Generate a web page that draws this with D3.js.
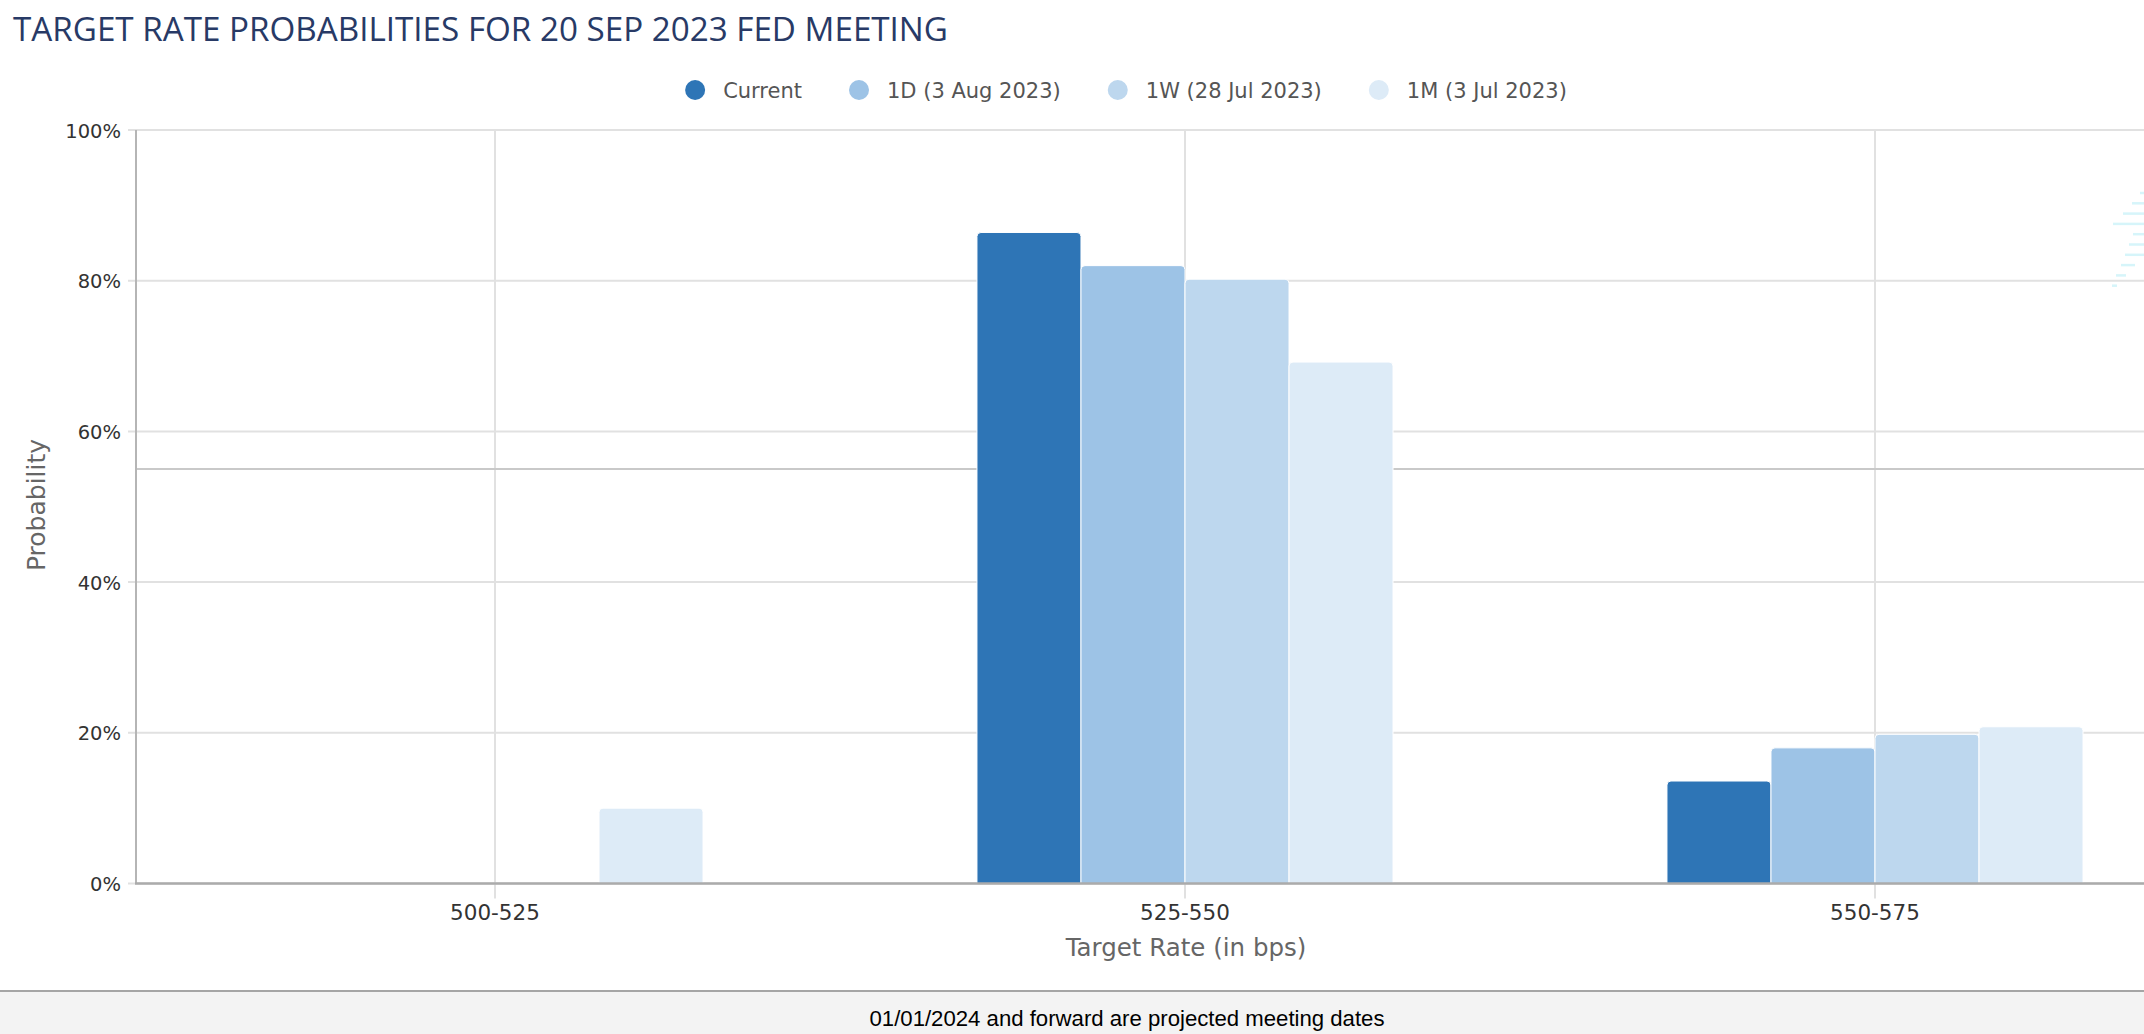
<!DOCTYPE html>
<html>
<head>
<meta charset="utf-8">
<script src="https://cdn.jsdelivr.net/npm/d3@7"></script>
<style>
  body { margin: 0; background: #fff; }
  svg { display: block; }
</style>
</head>
<body>
<div id="chart"></div>
<script>
// chart values
const categories = ["500-525", "525-550", "550-575"];
const seriesNames = ["Current", "1D (3 Aug 2023)", "1W (28 Jul 2023)", "1M (3 Jul 2023)"];
const current = [0, 86.4, 13.6];
const oneDay = [0, 82.0, 18.0];
const oneWeek = [0, 80.2, 19.8];
const oneMonth = [10.0, 69.2, 20.8];
const yTicks = [0, 20, 40, 60, 80, 100];
const colors = ["#2e75b6", "#9dc3e6", "#bdd7ee", "#ddebf7"];

const uiFont = "'DejaVu Sans', Verdana, sans-serif";

function drawChart() {
    const width = 2144;
    const height = 1034;
    const plotLeft = 136;
    const plotTop = 130;
    const plotBottom = 883.5;

    const svg = d3.select("#chart").append("svg")
        .attr("width", width)
        .attr("height", height);

    const series = [current, oneDay, oneWeek, oneMonth].map(function(vals, i) {
        return { name: seriesNames[i], color: colors[i], values: vals };
    });

    //----------------------------SCALES----------------------------//
    const xScale = d3.scaleBand()
        .domain(categories)
        .range([150, 150 + 690 * categories.length])
        .paddingInner(0.397)
        .paddingOuter(0.1985);
    const xInner = d3.scaleBand()
        .domain(seriesNames)
        .range([0, xScale.bandwidth()]);
    const yScale = d3.scaleLinear().domain([0, 100]).range([plotBottom, plotTop]);

    //-----------------------------TITLE----------------------------//
    svg.append("text")
        .attr("x", 13)
        .attr("y", 41)
        .attr("textLength", 935)
        .attr("lengthAdjust", "spacingAndGlyphs")
        .style("font-family", "'Open Sans', sans-serif")
        .style("font-size", "33px")
        .style("fill", "#283a66")
        .text("TARGET RATE PROBABILITIES FOR 20 SEP 2023 FED MEETING");

    //-----------------------------GRID-----------------------------//
    svg.append("g")
        .selectAll("line")
        .data(yTicks)
        .enter().append("line")
        .attr("x1", plotLeft - 8)
        .attr("x2", width)
        .attr("y1", function(d) { return yScale(d); })
        .attr("y2", function(d) { return yScale(d); })
        .style("stroke", "#e1e1e1")
        .style("stroke-width", 2);

    svg.append("g")
        .selectAll("line")
        .data(categories)
        .enter().append("line")
        .attr("x1", function(d) { return xScale(d) + xScale.bandwidth() / 2; })
        .attr("x2", function(d) { return xScale(d) + xScale.bandwidth() / 2; })
        .attr("y1", plotTop)
        .attr("y2", plotBottom + 15)
        .style("stroke", "#e1e1e1")
        .style("stroke-width", 2);

    // stray separator line seen across the plot
    svg.append("line")
        .attr("x1", plotLeft)
        .attr("x2", width)
        .attr("y1", 469)
        .attr("y2", 469)
        .style("stroke", "#c9c9c9")
        .style("stroke-width", 2);

    // faint cyan watermark stripes at the right edge
    const stripes = [[2140, 2144], [2132, 2144], [2123, 2144], [2113, 2144], [2133, 2144],
                     [2129, 2144], [2125, 2144], [2121, 2135], [2116, 2126], [2112, 2117]];
    svg.append("g")
        .selectAll("line")
        .data(stripes)
        .enter().append("line")
        .attr("x1", function(d) { return d[0]; })
        .attr("x2", function(d) { return d[1]; })
        .attr("y1", function(d, i) { return 193 + i * 10.3; })
        .attr("y2", function(d, i) { return 193 + i * 10.3; })
        .style("stroke", "#d6f5fa")
        .style("stroke-width", 2.5);

    //-----------------------------BARS-----------------------------//
    function barPath(x, y, w, h, r) {
        r = Math.min(r, h);
        return "M" + x + "," + (y + h) +
            "V" + (y + r) +
            "Q" + x + "," + y + " " + (x + r) + "," + y +
            "H" + (x + w - r) +
            "Q" + (x + w) + "," + y + " " + (x + w) + "," + (y + r) +
            "V" + (y + h) + "Z";
    }

    const groups = svg.append("g")
        .selectAll("g")
        .data(series)
        .enter().append("g")
        .style("fill", function(d) { return d.color; });

    groups.selectAll("path")
        .data(function(d) {
            return d.values.map(function(v, i) { return { name: d.name, cat: categories[i], value: v }; })
                .filter(function(p) { return p.value > 0; });
        })
        .enter().append("path")
        .attr("d", function(d) {
            const x = xScale(d.cat) + xInner(d.name);
            const y = yScale(d.value);
            return barPath(x, y, xInner.bandwidth(), plotBottom - y, 4);
        })
        .style("stroke", "#ffffff")
        .style("stroke-width", 1);

    //-----------------------------AXES-----------------------------//
    svg.append("line")
        .attr("x1", plotLeft).attr("x2", plotLeft)
        .attr("y1", plotTop).attr("y2", plotBottom)
        .style("stroke", "#b5b5b5")
        .style("stroke-width", 2);

    svg.append("line")
        .attr("x1", plotLeft - 1).attr("x2", width)
        .attr("y1", plotBottom).attr("y2", plotBottom)
        .style("stroke", "#ababab")
        .style("stroke-width", 2.5);

    const yaxis = d3.axisLeft(yScale)
        .tickValues(yTicks)
        .tickSize(0)
        .tickPadding(0)
        .tickFormat(function(d) { return d + "%"; });

    svg.append("g")
        .attr("transform", "translate(121,0)")
        .call(yaxis)
        .call(function(g) { g.select(".domain").remove(); })
        .selectAll("text")
        .attr("dy", "0.36em")
        .style("font-family", uiFont)
        .style("font-size", "19.5px")
        .style("fill", "#333");

    const xaxis = d3.axisBottom(xScale).tickSize(0).tickPadding(0);

    svg.append("g")
        .attr("transform", "translate(0,912)")
        .call(xaxis)
        .call(function(g) { g.select(".domain").remove(); })
        .selectAll("text")
        .attr("dy", "0.36em")
        .style("font-family", uiFont)
        .style("font-size", "21.5px")
        .style("fill", "#333");

    svg.append("text")
        .attr("x", 1186)
        .attr("y", 956)
        .attr("text-anchor", "middle")
        .style("font-family", uiFont)
        .style("font-size", "24.5px")
        .style("fill", "#666")
        .text("Target Rate (in bps)");

    svg.append("text")
        .attr("transform", "translate(45,505) rotate(-90)")
        .attr("text-anchor", "middle")
        .style("font-family", uiFont)
        .style("font-size", "25px")
        .style("fill", "#666")
        .text("Probability");

    //----------------------------LEGEND----------------------------//
    const legend = svg.append("g").attr("transform", "translate(0,90)");
    const items = legend.selectAll("g")
        .data(series)
        .enter().append("g");
    items.append("circle")
        .attr("r", 10)
        .style("fill", function(d) { return d.color; });
    items.append("text")
        .attr("x", 28)
        .attr("dy", "0.36em")
        .style("font-family", uiFont)
        .style("font-size", "21px")
        .style("fill", "#555")
        .text(function(d) { return d.name; });

    let pos = 0;
    const starts = [];
    items.each(function() {
        const w = d3.select(this).select("text").node().getComputedTextLength();
        starts.push(pos);
        pos += 28 + w + 57;
    });
    const total = pos - 57 + 10;
    const left = 1126 - total / 2 + 10;
    items.attr("transform", function(d, i) { return "translate(" + (left + starts[i]) + ",0)"; });

    //----------------------------FOOTER----------------------------//
    svg.append("rect")
        .attr("x", 0).attr("y", 991)
        .attr("width", width).attr("height", height - 991)
        .style("fill", "#f3f3f3");
    svg.append("line")
        .attr("x1", 0).attr("x2", width)
        .attr("y1", 991).attr("y2", 991)
        .style("stroke", "#a5a5a5")
        .style("stroke-width", 2);
    svg.append("text")
        .attr("x", 1127)
        .attr("y", 1026)
        .attr("text-anchor", "middle")
        .attr("textLength", 515)
        .attr("lengthAdjust", "spacingAndGlyphs")
        .style("font-family", "'Liberation Sans', Arial, sans-serif")
        .style("font-size", "22px")
        .style("fill", "#000")
        .text("01/01/2024 and forward are projected meeting dates");
}

drawChart();
</script>
</body>
</html>
